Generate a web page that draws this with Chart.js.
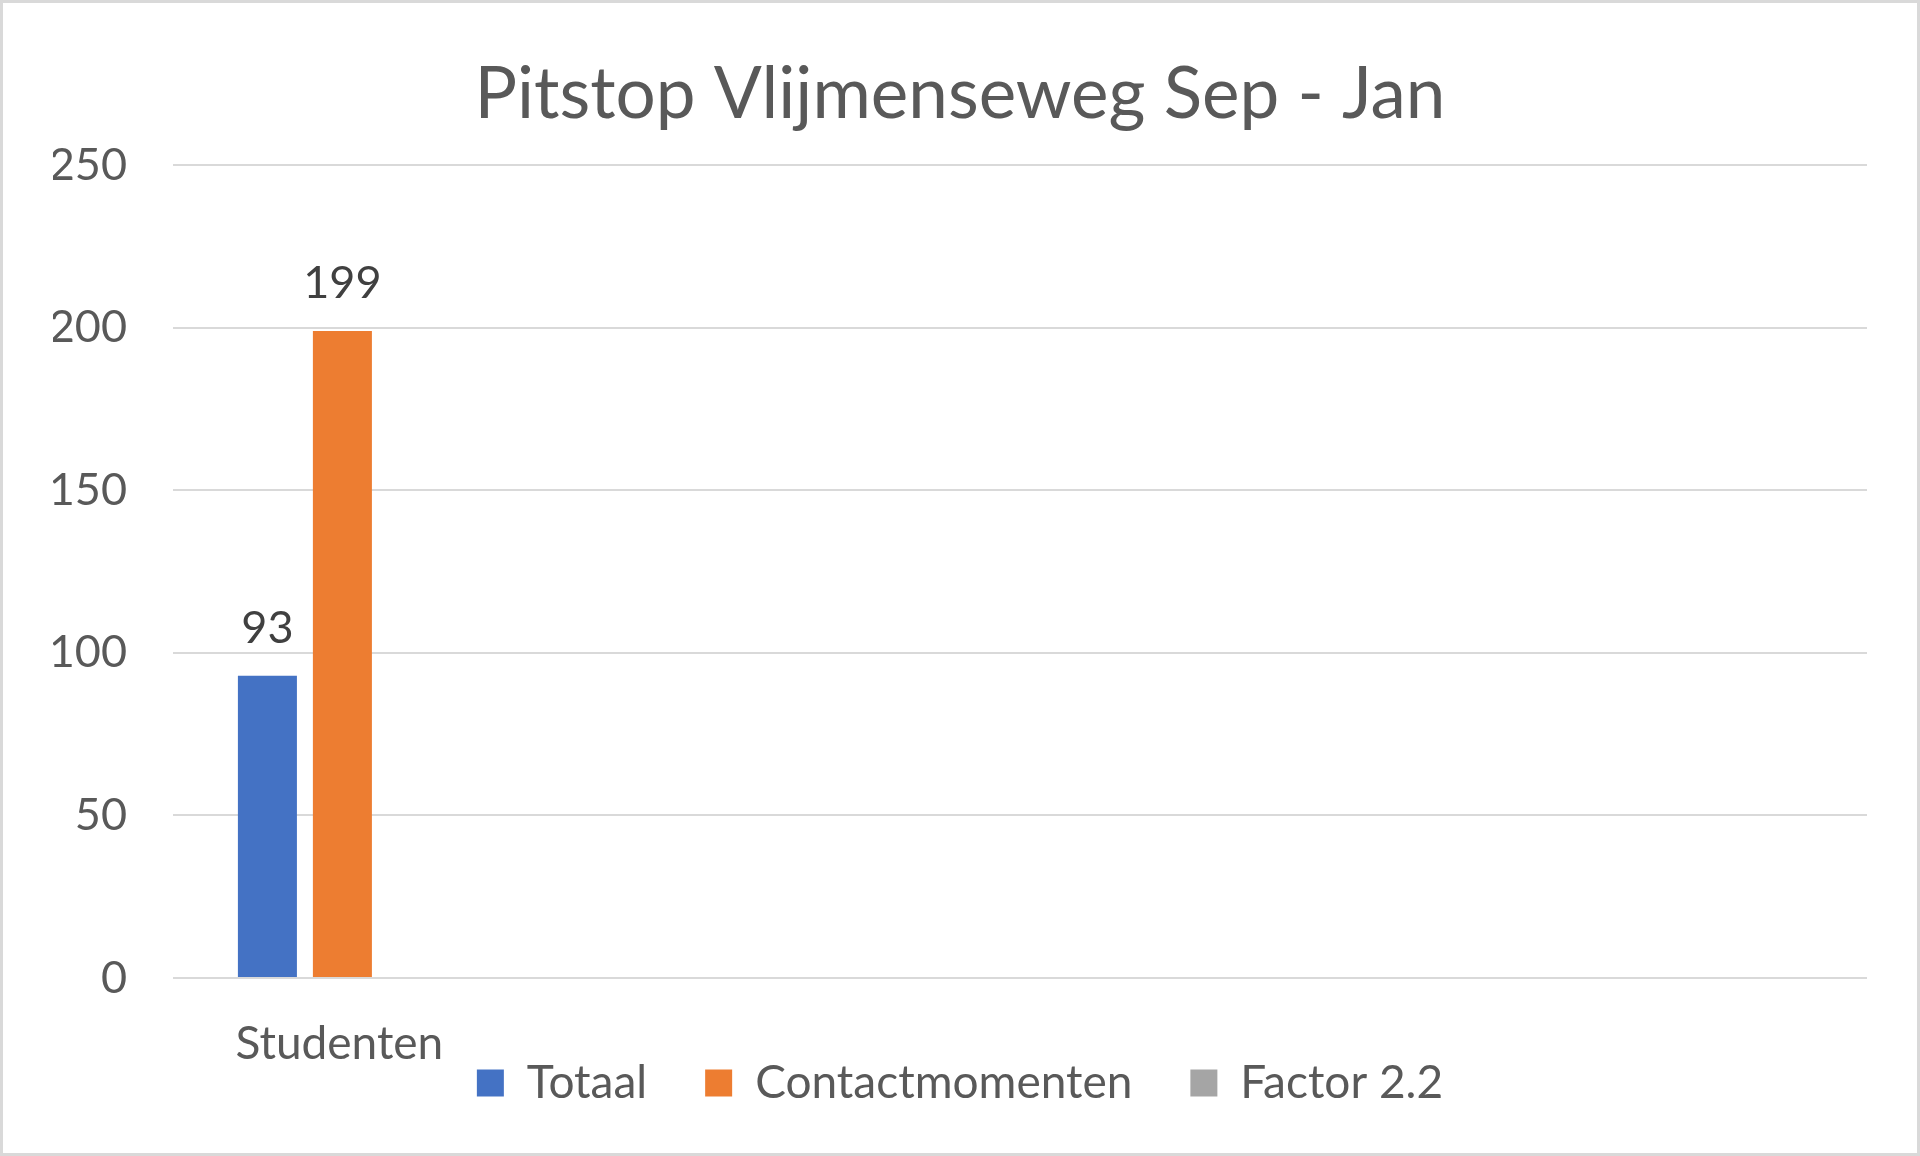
<!DOCTYPE html>
<html>
<head>
<meta charset="utf-8">
<script src="https://cdn.jsdelivr.net/npm/chart.js@4.4.1/dist/chart.umd.min.js"></script>
<style>
  html, body { margin: 0; padding: 0; background: #ffffff; }
  #wrap { width: 1920px; height: 1156px; }
</style>
</head>
<body>
<div id="wrap"><canvas id="c" width="1920" height="1156"></canvas></div>
<script>
const chartTitle = 'Pitstop Vlijmenseweg Sep - Jan';
const categories = ['Studenten', '', '', '', ''];
const totaal = [93, null, null, null, null];
const contactmomenten = [199, null, null, null, null];
const factor22 = [null, null, null, null, null];
const seriesNames = ['Totaal', 'Contactmomenten', 'Factor 2.2'];
const yMin = 0, yMax = 250, yStep = 50;

const FONT = 'Lato';
const TEXT = '#595959';

const frame = {
  id: 'frame',
  beforeDraw(chart) {
    const ctx = chart.ctx;
    ctx.save();
    ctx.fillStyle = '#ffffff';
    ctx.fillRect(0, 0, chart.width, chart.height);
    ctx.restore();
  },
  afterDraw(chart) {
    const ctx = chart.ctx;
    ctx.save();
    ctx.strokeStyle = '#d9d9d9';
    ctx.lineWidth = 4;
    ctx.strokeRect(1, 1, chart.width - 2, chart.height - 2);
    ctx.restore();
  }
};

// category labels under the x axis, positioned with the library's x scale
const categoryLabels = {
  id: 'categoryLabels',
  afterDraw(chart) {
    const ctx = chart.ctx;
    const xs = chart.scales.x;
    ctx.save();
    ctx.font = '46px ' + FONT;
    ctx.fillStyle = TEXT;
    ctx.textAlign = 'center';
    ctx.textBaseline = 'alphabetic';
    chart.data.labels.forEach((lab, i) => {
      if (!lab) return;
      ctx.fillText(lab, xs.getPixelForValue(i) - 3, chart.chartArea.bottom + 81);
    });
    ctx.restore();
  }
};

const dataLabels = {
  id: 'dataLabels',
  afterDatasetsDraw(chart) {
    const ctx = chart.ctx;
    ctx.save();
    ctx.font = '45px ' + FONT;
    ctx.fillStyle = '#404040';
    ctx.textAlign = 'center';
    ctx.textBaseline = 'alphabetic';
    chart.data.datasets.forEach((ds, i) => {
      const meta = chart.getDatasetMeta(i);
      meta.data.forEach((el, j) => {
        const v = ds.data[j];
        if (v === null || v === undefined) return;
        ctx.fillText(String(v), el.x, el.y - 33);
      });
    });
    ctx.restore();
  }
};

new Chart(document.getElementById('c'), {
  type: 'bar',
  data: {
    labels: categories,
    datasets: [
      { label: seriesNames[0], data: totaal, backgroundColor: '#4472C4' },
      { label: seriesNames[1], data: contactmomenten, backgroundColor: '#ED7D31' },
      { label: seriesNames[2], data: factor22, backgroundColor: '#A5A5A5' }
    ]
  },
  options: {
    responsive: false,
    animation: false,
    devicePixelRatio: 1,
    layout: { padding: { left: 53, right: 53, top: 0, bottom: 40 } },
    datasets: { bar: { categoryPercentage: 0.664, barPercentage: 0.787 } },
    plugins: {
      title: {
        display: true,
        text: chartTitle,
        color: TEXT,
        font: { family: FONT, size: 71, weight: 'normal' },
        padding: { top: 53, bottom: 27 }
      },
      legend: {
        position: 'bottom',
        labels: {
          color: TEXT,
          font: { family: FONT, size: 46 },
          boxWidth: 27,
          boxHeight: 27,
          padding: 58
        }
      },
      tooltip: { enabled: false }
    },
    scales: {
      x: {
        grid: { display: false },
        border: { display: false },
        ticks: { display: false },
        afterFit(s) { s.height = 24; }
      },
      y: {
        min: yMin, max: yMax,
        grid: { color: '#d9d9d9', lineWidth: 2, drawTicks: false },
        border: { display: false },
        ticks: { stepSize: yStep, color: TEXT, font: { family: FONT, size: 45 }, padding: 46 },
        afterFit(s) { s.width = 120; }
      }
    }
  },
  plugins: [frame, dataLabels, categoryLabels]
});
</script>
</body>
</html>
